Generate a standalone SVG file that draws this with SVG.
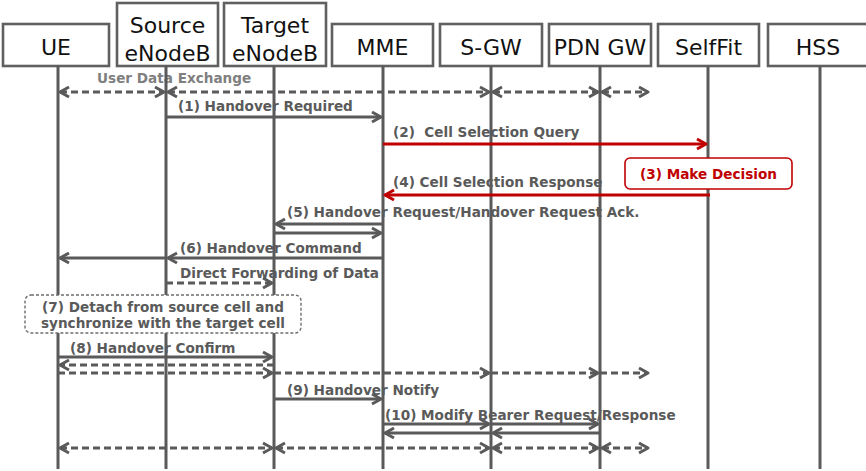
<svg xmlns="http://www.w3.org/2000/svg" width="866" height="471" viewBox="0 0 866 471">
  <style>
    .box { fill: #fff; stroke: #606060; stroke-width: 2.6; }
    .title { font-family: "DejaVu Sans", sans-serif; font-size: 22px; fill: #111; text-anchor: middle; }
    .life { stroke: #5a5a5a; stroke-width: 3; }
    .lbl { font-family: "DejaVu Sans", sans-serif; font-weight: bold; font-size: 13.6px; fill: #5a5a5a; white-space: pre; }
    .lbl.light { fill: #7f7f7f; }
    .msg { stroke: #5a5a5a; stroke-width: 3; fill: none; }
    .dash { stroke-dasharray: 7 4; }
    .red { stroke: #c00000; }
    .note-red { fill: #fff; stroke: #c00000; stroke-width: 1.6; }
    .note-grey { fill: #fff; stroke: #6e6e6e; stroke-width: 1.4; stroke-dasharray: 3 2; }
  </style>
  <defs>
    <marker id="ah" viewBox="-12 -8 14 16" refX="0" refY="0" markerWidth="14" markerHeight="16" markerUnits="userSpaceOnUse" orient="auto-start-reverse">
      <path d="M-9,-5 L0,0 L-9,5" fill="none" stroke="#5a5a5a" stroke-width="3" stroke-linejoin="round" stroke-dasharray="none"/>
    </marker>
    <marker id="ahr" viewBox="-12 -8 14 16" refX="0" refY="0" markerWidth="14" markerHeight="16" markerUnits="userSpaceOnUse" orient="auto-start-reverse">
      <path d="M-9,-5 L0,0 L-9,5" fill="none" stroke="#c00000" stroke-width="3" stroke-linejoin="round" stroke-dasharray="none"/>
    </marker>
  </defs>

  <!-- message labels (lifelines pass over them) -->
  <g id="labels">
    <text class="lbl light" x="97" y="83">User Data Exchange</text>
    <text class="lbl" x="178" y="111">(1) Handover Required</text>
    <text class="lbl" x="393" y="137">(2)  Cell Selection Query</text>
    <text class="lbl" x="393" y="187">(4) Cell Selection Response</text>
    <text class="lbl" x="287" y="217">(5) Handover Request/Handover Request Ack.</text>
    <text class="lbl" x="180" y="253">(6) Handover Command</text>
    <text class="lbl" x="180" y="278">Direct Forwarding of Data</text>
    <text class="lbl" x="70" y="353">(8) Handover Confirm</text>
    <text class="lbl" x="287" y="395">(9) Handover Notify</text>
    <text class="lbl" x="385" y="420">(10) Modify Bearer Request/Response</text>
  </g>

  <!-- participants -->
  <g id="ue">
    <rect class="box" x="3" y="24" width="106" height="42"/>
    <text class="title" x="56" y="55">UE</text>
    <line class="life" x1="58" y1="66" x2="58" y2="469"/>
  </g>
  <g id="source-enb">
    <rect class="box" x="117" y="3" width="101" height="63"/>
    <text class="title" x="167.5" y="33">Source</text>
    <text class="title" x="167.5" y="61">eNodeB</text>
    <line class="life" x1="166" y1="66" x2="166" y2="469"/>
  </g>
  <g id="target-enb">
    <rect class="box" x="224" y="3" width="102" height="63"/>
    <text class="title" x="275" y="33">Target</text>
    <text class="title" x="275" y="61">eNodeB</text>
    <line class="life" x1="274" y1="66" x2="274" y2="469"/>
  </g>
  <g id="mme">
    <rect class="box" x="332" y="24" width="101" height="42"/>
    <text class="title" x="382.5" y="55">MME</text>
    <line class="life" x1="383" y1="66" x2="383" y2="469"/>
  </g>
  <g id="s-gw">
    <rect class="box" x="440" y="24" width="102" height="42"/>
    <text class="title" x="491" y="55">S-GW</text>
    <line class="life" x1="491" y1="66" x2="491" y2="469"/>
  </g>
  <g id="pdn-gw">
    <rect class="box" x="549" y="24" width="102" height="42"/>
    <text class="title" x="600" y="55">PDN GW</text>
    <line class="life" x1="600" y1="66" x2="600" y2="469"/>
  </g>
  <g id="selffit">
    <rect class="box" x="658" y="24" width="101" height="42"/>
    <text class="title" x="708.5" y="55">SelfFit</text>
    <line class="life" x1="708" y1="66" x2="708" y2="469"/>
  </g>
  <g id="hss">
    <rect class="box" x="768" y="24" width="104" height="42"/>
    <text class="title" x="818" y="55">HSS</text>
    <line class="life" x1="820" y1="66" x2="820" y2="469"/>
  </g>

  <!-- messages -->
  <g id="connectors">
    <!-- user data exchange -->
    <line class="msg dash" x1="60" y1="92" x2="164" y2="92" marker-start="url(#ah)" marker-end="url(#ah)"/>
    <line class="msg dash" x1="168" y1="92" x2="489" y2="92" marker-start="url(#ah)" marker-end="url(#ah)"/>
    <line class="msg dash" x1="493" y1="92" x2="598" y2="92" marker-start="url(#ah)" marker-end="url(#ah)"/>
    <line class="msg dash" x1="602" y1="92" x2="648" y2="92" marker-start="url(#ah)" marker-end="url(#ah)"/>
    <!-- (1) -->
    <line class="msg" x1="166" y1="117" x2="381" y2="117" marker-end="url(#ah)"/>
    <!-- (2) and (4) -->
    <line class="msg red" x1="383" y1="144" x2="706" y2="144" marker-end="url(#ahr)"/>
    <line class="msg red" x1="710" y1="195" x2="385" y2="195" marker-end="url(#ahr)"/>
    <!-- (5) -->
    <line class="msg" x1="383" y1="224" x2="276" y2="224" marker-end="url(#ah)"/>
    <line class="msg" x1="274" y1="233" x2="381" y2="233" marker-end="url(#ah)"/>
    <!-- (6) -->
    <line class="msg" x1="383" y1="258" x2="168" y2="258" marker-end="url(#ah)"/>
    <line class="msg" x1="166" y1="258" x2="60" y2="258" marker-end="url(#ah)"/>
    <!-- direct forwarding -->
    <line class="msg dash" x1="166" y1="283" x2="272" y2="283" marker-end="url(#ah)"/>
    <!-- (8) -->
    <line class="msg" x1="58" y1="357" x2="272" y2="357" marker-end="url(#ah)"/>
    <line class="msg dash" x1="274" y1="365" x2="60" y2="365" marker-end="url(#ah)"/>
    <line class="msg dash" x1="58" y1="373" x2="272" y2="373" marker-end="url(#ah)"/>
    <line class="msg dash" x1="274" y1="373" x2="489" y2="373" marker-end="url(#ah)"/>
    <line class="msg dash" x1="491" y1="373" x2="598" y2="373" marker-end="url(#ah)"/>
    <line class="msg dash" x1="600" y1="373" x2="648" y2="373" marker-end="url(#ah)"/>
    <!-- (9) -->
    <line class="msg" x1="274" y1="399" x2="381" y2="399" marker-end="url(#ah)"/>
    <!-- (10) -->
    <line class="msg" x1="383" y1="424" x2="489" y2="424" marker-end="url(#ah)"/>
    <line class="msg" x1="491" y1="424" x2="598" y2="424" marker-end="url(#ah)"/>
    <line class="msg" x1="600" y1="433" x2="493" y2="433" marker-end="url(#ah)"/>
    <line class="msg" x1="491" y1="433" x2="385" y2="433" marker-end="url(#ah)"/>
    <!-- user data after handover -->
    <line class="msg dash" x1="60" y1="448" x2="272" y2="448" marker-start="url(#ah)" marker-end="url(#ah)"/>
    <line class="msg dash" x1="276" y1="448" x2="489" y2="448" marker-start="url(#ah)" marker-end="url(#ah)"/>
    <line class="msg dash" x1="493" y1="448" x2="598" y2="448" marker-start="url(#ah)" marker-end="url(#ah)"/>
    <line class="msg dash" x1="602" y1="448" x2="648" y2="448" marker-start="url(#ah)" marker-end="url(#ah)"/>
  </g>

  <!-- action notes -->
  <g id="make-decision">
    <rect class="note-red" x="625" y="158" width="167" height="31" rx="5"/>
    <text class="lbl" x="708.5" y="179" text-anchor="middle" style="fill:#c00000">(3) Make Decision</text>
  </g>
  <g id="detach-sync">
    <rect class="note-grey" x="25" y="295" width="276" height="38" rx="6"/>
    <text class="lbl" x="163" y="312" text-anchor="middle">(7) Detach from source cell and</text>
    <text class="lbl" x="163" y="328" text-anchor="middle">synchronize with the target cell</text>
  </g>
</svg>
